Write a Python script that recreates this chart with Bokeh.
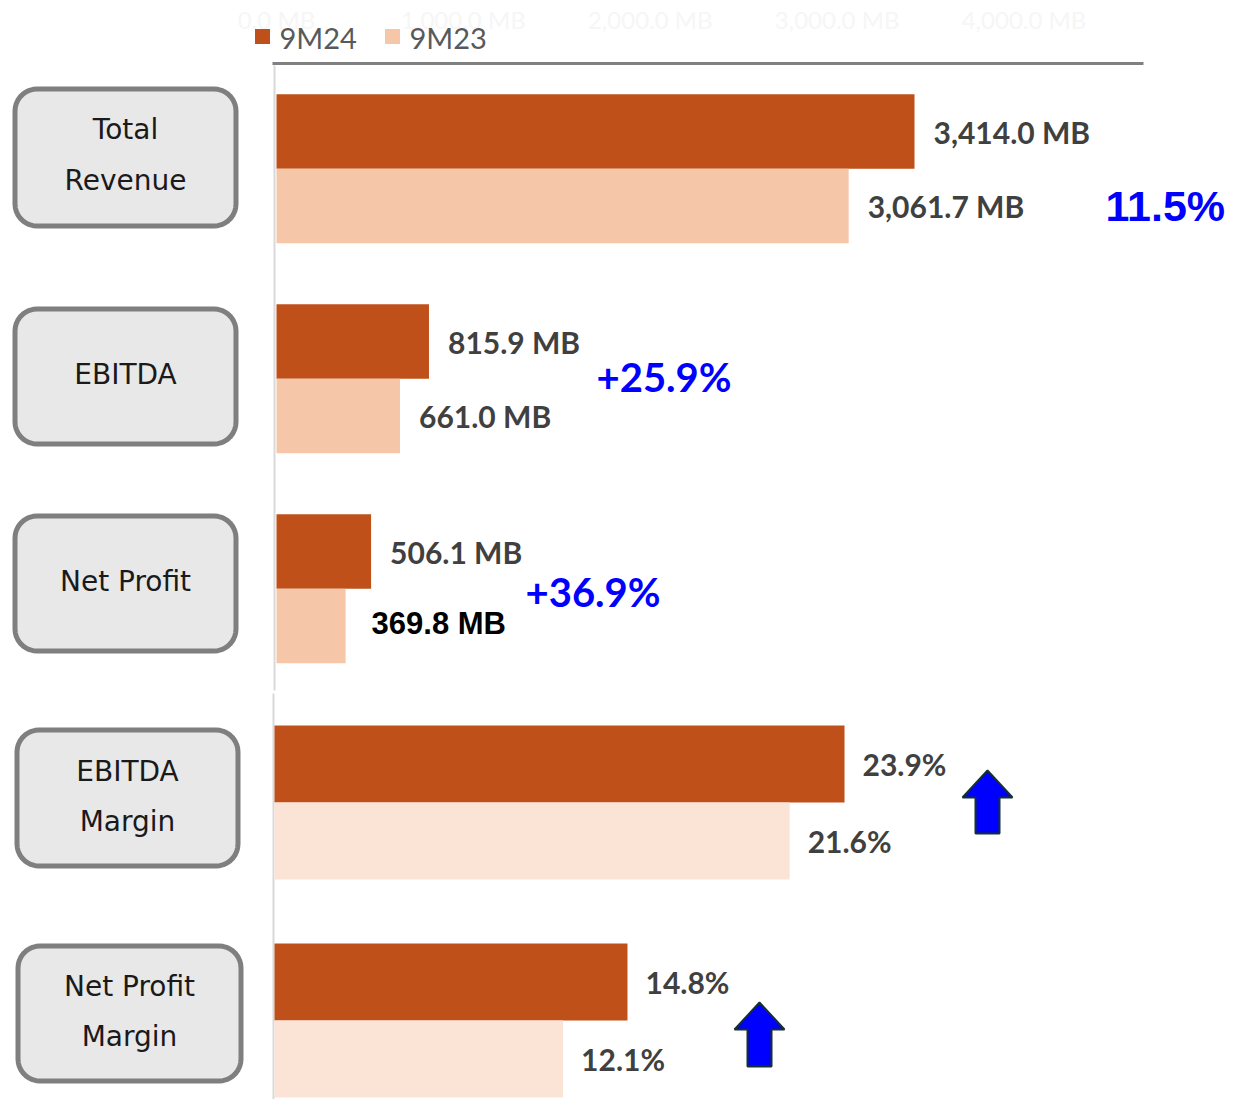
import numpy as np
from bokeh.plotting import figure
from bokeh.models import Range1d
from bokeh.core.properties import value
from bokeh.embed import file_html
from bokeh.resources import INLINE

# ---------------- data ----------------
series = ["9M24", "9M23"]
top_box_lines = [["Total", "Revenue"], ["EBITDA"], ["Net Profit"]]
mb_9m24 = [3414.0, 815.9, 506.1]
mb_9m23 = [3061.7, 661.0, 369.8]
growth_labels = ["11.5%", "+25.9%", "+36.9%"]
bottom_box_lines = [["EBITDA", "Margin"], ["Net Profit", "Margin"]]
pct_9m24 = [23.9, 14.8]
pct_9m23 = [21.6, 12.1]
mb_ticks = [0, 1000, 2000, 3000, 4000]

# ---------------- style / layout ----------------
C24 = "#C0501A"
C23_TOP = "#F6C6A9"
C23_BOT = "#FBE3D6"
LABEL = "#404040"

W, H = 1234, 1099
X0, Y0 = 0, 0  # data coordinate at the canvas' top-left corner
p = figure(width=W, height=H, x_range=Range1d(X0, X0 + W), y_range=Range1d(Y0 + H, Y0),
           output_backend="svg", toolbar_location=None, x_axis_type=None, y_axis_type=None,
           min_border=0, outline_line_color=None)
p.background_fill_color = "white"
p.border_fill_color = "white"

# value scales
mb_zero, px_per_mb = 276.0, 0.18688
pct_zero, px_per_pct = 274.0, 23.85
p.extra_x_ranges = {
    "mb": Range1d((X0 - mb_zero) / px_per_mb, (X0 + W - mb_zero) / px_per_mb),
    "pct": Range1d((X0 - pct_zero) / px_per_pct, (X0 + W - pct_zero) / px_per_pct),
}

# faint top tick labels
p.text(x=mb_ticks, y=[19] * len(mb_ticks), text=[f"{t:,.1f} MB" for t in mb_ticks],
       x_range_name="mb", text_align="center", text_baseline="middle",
       text_font=value("Lato"), text_font_size="24px", text_color="#f6f6f6")

# legend
p.scatter(x=[262, 392], y=[36, 36], marker="square", size=15,
          fill_color=[C24, C23_TOP], line_color=None)
p.text(x=[279, 409], y=[37, 37], text=series, text_baseline="middle",
       text_font=value("Lato"), text_font_size="29px", text_color="#595959")

# axis lines
p.segment(x0=[272], y0=[63], x1=[1143], y1=[63], line_color="#808080", line_width=3)
p.segment(x0=[274, 273], y0=[65, 693], x1=[274, 273], y1=[690, 1112],
          line_color="#d9d9d9", line_width=2)

# ---------------- top chart (MB) ----------------
top_step, top_first, bar_h_top = 210.0, 131.0, 74.5
y24_top = [top_first + i * top_step for i in range(len(mb_9m24))]
y23_top = [y + bar_h_top for y in y24_top]

p.hbar(y=y24_top, left=0, right=mb_9m24, height=bar_h_top, x_range_name="mb",
       fill_color=C24, line_color=None)
p.hbar(y=y23_top, left=0, right=mb_9m23, height=bar_h_top, x_range_name="mb",
       fill_color=C23_TOP, line_color=None)

p.text(x=mb_9m24, y=y24_top, text=[f"{v:,.1f} MB" for v in mb_9m24], x_range_name="mb",
       x_offset=19, text_baseline="middle", text_font=value("Lato"), text_font_style="bold",
       text_font_size="30px", text_color=LABEL)
p.text(x=mb_9m23[:2], y=y23_top[:2], text=[f"{v:,.1f} MB" for v in mb_9m23[:2]],
       x_range_name="mb", x_offset=19, text_baseline="middle", text_font=value("Lato"),
       text_font_style="bold", text_font_size="30px", text_color=LABEL)
p.text(x=mb_9m23[2:], y=y23_top[2:], text=[f"{v:,.1f} MB" for v in mb_9m23[2:]],
       x_range_name="mb", x_offset=26, y_offset=-3, text_baseline="middle",
       text_font=value("Liberation Sans"), text_font_style="bold",
       text_font_size="31px", text_color="#000000")

# growth labels
p.text(x=[1105], y=[205], text=growth_labels[:1], text_baseline="middle",
       text_font=value("Liberation Sans"), text_font_style="bold",
       text_font_size="43px", text_color="#0000FF")
p.text(x=[596, 525], y=[376, 591], text=growth_labels[1:], text_baseline="middle",
       text_font=value("Lato"), text_font_style="bold",
       text_font_size="40px", text_color="#0000FF")

# ---------------- bottom chart (%) ----------------
bot_step, bot_first, bar_h_bot = 218.0, 763.5, 77.0
y24_bot = [bot_first + i * bot_step for i in range(len(pct_9m24))]
y23_bot = [y + bar_h_bot for y in y24_bot]

p.hbar(y=y24_bot, left=0, right=pct_9m24, height=bar_h_bot, x_range_name="pct",
       fill_color=C24, line_color=None)
p.hbar(y=y23_bot, left=0, right=pct_9m23, height=bar_h_bot, x_range_name="pct",
       fill_color=C23_BOT, line_color=None)
p.text(x=pct_9m24 + pct_9m23, y=y24_bot + y23_bot,
       text=[f"{v:.1f}%" for v in pct_9m24 + pct_9m23], x_range_name="pct",
       x_offset=18, text_baseline="middle", text_font=value("Lato"), text_font_style="bold",
       text_font_size="30px", text_color=LABEL)

# up arrows
def up_arrow(cx, tip, bottom, head_h=27, head_hw=25, shaft_hw=12):
    xs = [cx, cx + head_hw, cx + shaft_hw, cx + shaft_hw, cx - shaft_hw, cx - shaft_hw, cx - head_hw]
    ys = [tip, tip + head_h, tip + head_h, bottom, bottom, tip + head_h, tip + head_h]
    return xs, ys

arrows = [up_arrow(987, 770, 833), up_arrow(759, 1002, 1066)]
p.patches(xs=[a[0] for a in arrows], ys=[a[1] for a in arrows], fill_color="#0000FF",
          line_color="#143030", line_width=2)

# ---------------- category boxes ----------------
def rounded_rect(x0, y0, x1, y1, r, n=10):
    xs, ys = [], []
    corners = [(x1 - r, y0 + r, -90, 0), (x1 - r, y1 - r, 0, 90),
               (x0 + r, y1 - r, 90, 180), (x0 + r, y0 + r, 180, 270)]
    for cx, cy, a0, a1 in corners:
        for a in np.linspace(np.radians(a0), np.radians(a1), n):
            xs.append(cx + r * np.cos(a))
            ys.append(cy + r * np.sin(a))
    return xs, ys

boxes = [(14.5, 88.5, 235.5, 225.5), (14.5, 308.5, 235.5, 443.5), (14.5, 515.5, 235.5, 650.5),
         (16.5, 729.5, 237.5, 865.5), (17.5, 945.5, 240.5, 1080.5)]
rr = [rounded_rect(*b, r=22) for b in boxes]
p.patches(xs=[r[0] for r in rr], ys=[r[1] for r in rr], fill_color="#E8E8E8",
          line_color="#7F7F7F", line_width=5)

box_lines = top_box_lines + bottom_box_lines
box_text_y = [[129, 180], [374], [581], [771, 821], [986, 1036]]
box_cx = [125, 125, 125, 127, 129]
tx, ty, tt = [], [], []
for lines, ys, cx in zip(box_lines, box_text_y, box_cx):
    for s, y in zip(lines, ys):
        tx.append(cx); ty.append(y); tt.append(s)
p.text(x=tx, y=ty, text=tt, text_align="center", text_baseline="middle",
       text_font=value("DejaVu Sans"), text_font_size="28px", text_color="#1a1a1a")

open("out.html", "w").write(file_html(p, INLINE))
